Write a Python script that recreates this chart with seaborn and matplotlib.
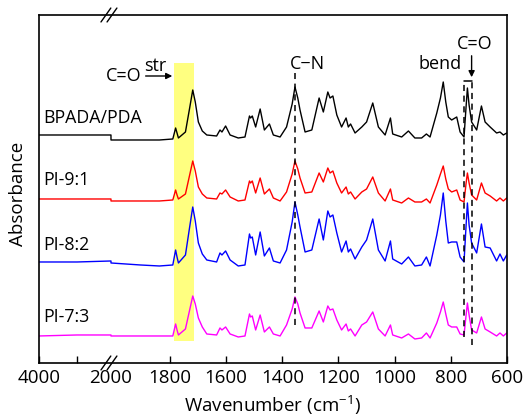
import numpy as np
import pandas as pd
import seaborn as sns
import matplotlib.pyplot as plt

SAMPLES = ['BPADA/PDA', 'PI-9:1', 'PI-8:2', 'PI-7:3']
COLOURS = ['#000000', '#ff0000', '#0000ff', '#ff00ff']
OFFSETS = [2.23, 1.62, 0.98, 0.26]

# 4000-2000 part of the spectra (flat)
WN_LEFT = [4000, 3000, 2001]
LEFT = {
    'BPADA/PDA': [0.05, 0.05, 0.05],
    'PI-9:1': [0.02, 0.02, 0.02],
    'PI-8:2': [0.03, 0.03, 0.04],
    'PI-7:3': [0.01, 0.02, 0.02],
}

# 2000-600 part
WN = [2000, 1900, 1836, 1780, 1770, 1719, 1699, 1669, 1634, 1622,
      1615, 1602, 1586, 1557, 1533, 1517, 1513, 1507, 1495, 1479,
      1464, 1446, 1432, 1408, 1385, 1355, 1337, 1319, 1295, 1269,
      1254, 1238, 1230, 1220, 1206, 1189, 1173, 1165, 1157, 1141,
      1117, 1100, 1078, 1058, 1034, 1015, 1007, 975, 951, 928,
      904, 887, 874, 850, 827, 809, 797, 779, 767, 753,
      741, 726, 708, 691, 678, 660, 637, 625, 613, 601]

ABS_BPADA = [0.00, 0.00, 0.00, 0.12, 0.02, 0.50, 0.18, 0.05, 0.04, 0.10,
             0.08, 0.14, 0.05, 0.02, 0.03, 0.24, 0.22, 0.24, 0.13, 0.31,
             0.10, 0.16, 0.05, 0.03, 0.13, 0.53, 0.30, 0.08, 0.10, 0.42,
             0.28, 0.48, 0.42, 0.44, 0.25, 0.13, 0.22, 0.13, 0.16, 0.07,
             0.13, 0.18, 0.37, 0.13, 0.05, 0.22, 0.06, 0.03, 0.09, 0.02,
             0.02, 0.06, 0.03, 0.27, 0.58, 0.23, 0.20, 0.23, 0.08, 0.03,
             0.52, 0.18, 0.10, 0.34, 0.18, 0.13, 0.07, 0.08, 0.05, 0.07]
ABS_PI91 = [0.00, 0.00, 0.00, 0.11, 0.02, 0.40, 0.14, 0.03, 0.02, 0.08,
            0.07, 0.11, 0.04, 0.00, 0.01, 0.20, 0.18, 0.20, 0.08, 0.23,
            0.07, 0.12, 0.03, 0.00, 0.09, 0.40, 0.23, 0.08, 0.09, 0.28,
            0.19, 0.33, 0.28, 0.30, 0.18, 0.08, 0.14, 0.07, 0.09, 0.02,
            0.09, 0.12, 0.24, 0.08, 0.00, 0.12, 0.01, -0.02, 0.03, -0.01,
            -0.01, 0.02, -0.02, 0.16, 0.35, 0.12, 0.09, 0.11, 0.01, -0.01,
            0.28, 0.06, 0.01, 0.18, 0.08, 0.05, 0.00, 0.03, 0.00, 0.03]
ABS_PI82 = [0.02, 0.00, -0.01, 0.15, 0.02, 0.58, 0.22, 0.05, 0.03, 0.12,
            0.10, 0.14, 0.05, -0.01, 0.00, 0.31, 0.27, 0.28, 0.10, 0.33,
            0.09, 0.17, 0.04, 0.02, 0.15, 0.63, 0.38, 0.13, 0.15, 0.46,
            0.25, 0.54, 0.48, 0.50, 0.32, 0.13, 0.24, 0.13, 0.16, 0.06,
            0.18, 0.25, 0.46, 0.15, 0.04, 0.24, 0.06, 0.01, 0.08, -0.01,
            0.00, 0.08, -0.01, 0.30, 0.72, 0.22, 0.23, 0.23, 0.08, 0.03,
            0.62, 0.22, 0.12, 0.41, 0.18, 0.17, 0.04, 0.11, 0.04, 0.10]
ABS_PI73 = [0.01, 0.01, 0.01, 0.13, 0.02, 0.41, 0.19, 0.03, 0.02, 0.09,
            0.07, 0.10, 0.03, 0.00, 0.01, 0.23, 0.20, 0.21, 0.07, 0.22,
            0.05, 0.10, 0.03, 0.01, 0.12, 0.40, 0.24, 0.09, 0.09, 0.26,
            0.15, 0.31, 0.27, 0.28, 0.17, 0.07, 0.13, 0.06, 0.08, 0.01,
            0.12, 0.15, 0.25, 0.08, 0.01, 0.12, 0.02, -0.01, 0.03, -0.02,
            -0.01, 0.04, -0.01, 0.14, 0.35, 0.12, 0.10, 0.10, 0.03, 0.02,
            0.34, 0.07, 0.04, 0.20, 0.08, 0.05, 0.01, 0.04, 0.01, 0.04]

# extra readings on the flanks of the strong bands
WN_FLANK = [1790, 1775, 1745, 1730, 1710, 1685, 1365, 1345, 837, 818, 746, 735]
FLANK_BPADA = [0.01, 0.07, 0.08, 0.32, 0.38, 0.09, 0.36, 0.42, 0.42, 0.38, 0.32, 0.35]
FLANK_PI91 = [0.01, 0.06, 0.07, 0.26, 0.30, 0.07, 0.27, 0.32, 0.27, 0.22, 0.17, 0.18]
FLANK_PI82 = [0.00, 0.08, 0.10, 0.38, 0.44, 0.11, 0.43, 0.50, 0.50, 0.44, 0.38, 0.40]
FLANK_PI73 = [0.01, 0.07, 0.08, 0.27, 0.33, 0.10, 0.28, 0.33, 0.25, 0.23, 0.21, 0.22]

RIGHT = {'BPADA/PDA': ABS_BPADA + FLANK_BPADA, 'PI-9:1': ABS_PI91 + FLANK_PI91,
         'PI-8:2': ABS_PI82 + FLANK_PI82, 'PI-7:3': ABS_PI73 + FLANK_PI73}

TICKS = [4000, 2000, 1800, 1600, 1400, 1200, 1000, 800, 600]

# broken x axis: wavenumber -> relative position
KNOT_WN = [600, 1800, 2000, 3000, 4000]
KNOT_POS = [507, 170, 111, 77, 38.7]


def fwd(w):
    return -np.interp(w, KNOT_WN, KNOT_POS)


def inv(t):
    return np.interp(-np.asarray(t), KNOT_POS[::-1], KNOT_WN[::-1])


frames = []
for s, off in zip(SAMPLES, OFFSETS):
    wn = WN_LEFT + WN + WN_FLANK
    ab = np.array(LEFT[s] + RIGHT[s]) + off
    frames.append(pd.DataFrame({'wavenumber': wn, 'absorbance': ab, 'sample': s}))
df = pd.concat(frames, ignore_index=True)

sns.set_style('ticks')
plt.rcParams['font.family'] = ['Open Sans', 'DejaVu Sans']
plt.rcParams['text.color'] = 'black'
plt.rcParams['axes.labelcolor'] = 'black'
plt.rcParams['xtick.color'] = 'black'

fig = plt.figure(figsize=(5.23, 4.19), dpi=100)
ax = fig.add_axes([0.074, 0.1337, 0.8954, 0.8305])

ax.axvspan(1713, 1785, ymin=0.064, ymax=0.861, color='#ffff80', lw=0, zorder=0)

sns.lineplot(data=df, x='wavenumber', y='absorbance', hue='sample',
             hue_order=SAMPLES, palette=COLOURS, estimator=None,
             legend=False, lw=1.0, ax=ax)

ax.set_xscale('function', functions=(fwd, inv))
ax.set_xlim(4000, 600)
ax.set_ylim(0, 3.48)
ax.set_xticks(TICKS)
ax.set_xticklabels([str(t) for t in TICKS])
ax.set_xticks([3000], minor=True)
ax.set_yticks([])
ax.tick_params(axis='x', which='both', direction='in', length=5, width=1,
               labelsize=13.5, pad=4, colors='black')
ax.xaxis.get_major_ticks()[1].tick1line.set_visible(False)
for sp in ax.spines.values():
    sp.set_linewidth(1.2)
    sp.set_color('black')

ax.set_xlabel('Wavenumber (cm$^{\\mathregular{-1}}$)', fontsize=13.5)
ax.xaxis.set_label_coords(0.5, -0.088)
ax.set_ylabel('Absorbance', fontsize=13.5)
ax.yaxis.set_label_coords(-0.025, 0.487)

# sample names
for s, y in zip(SAMPLES, [0.705, 0.526, 0.338, 0.131]):
    ax.text(0.01, y, s, transform=ax.transAxes, fontsize=12.8, va='center')

# dashed marker lines
dash = dict(color='black', lw=1.1, ls=(0, (4, 3)))
ax.plot([1355, 1355], [0.38, 2.90], **dash)
ax.plot([753, 753], [0.26, 2.82], **dash)
ax.plot([726, 726], [0.18, 2.82], **dash)
ax.plot([753, 726], [2.82, 2.82], color='black', lw=1.1)

ax.text(1898, 2.87, 'C=O', fontsize=13, ha='right', va='center')
ax.text(1849, 2.97, 'str', fontsize=13, ha='center', va='center')
ax.annotate('', xy=(1782, 2.87), xytext=(1892, 2.87),
            arrowprops=dict(arrowstyle='-|>', color='black', lw=1, mutation_scale=9))
ax.text(1310, 2.99, 'C\u2212N', fontsize=13, ha='center', va='center')
ax.text(840, 2.99, 'bend', fontsize=13, ha='center', va='center')
ax.text(714, 3.19, 'C=O', fontsize=13, ha='center', va='center')
ax.annotate('', xy=(726, 2.83), xytext=(726, 3.10),
            arrowprops=dict(arrowstyle='-|>', color='black', lw=1, mutation_scale=9))

# axis break marks
for x0 in (0.133, 0.146):
    for yb in (0.0, 1.0):
        ax.plot([x0, x0 + 0.021], [yb - 0.02, yb + 0.02], color='black', lw=1,
                transform=ax.transAxes, clip_on=False)

fig.savefig('out.png', dpi=100)
